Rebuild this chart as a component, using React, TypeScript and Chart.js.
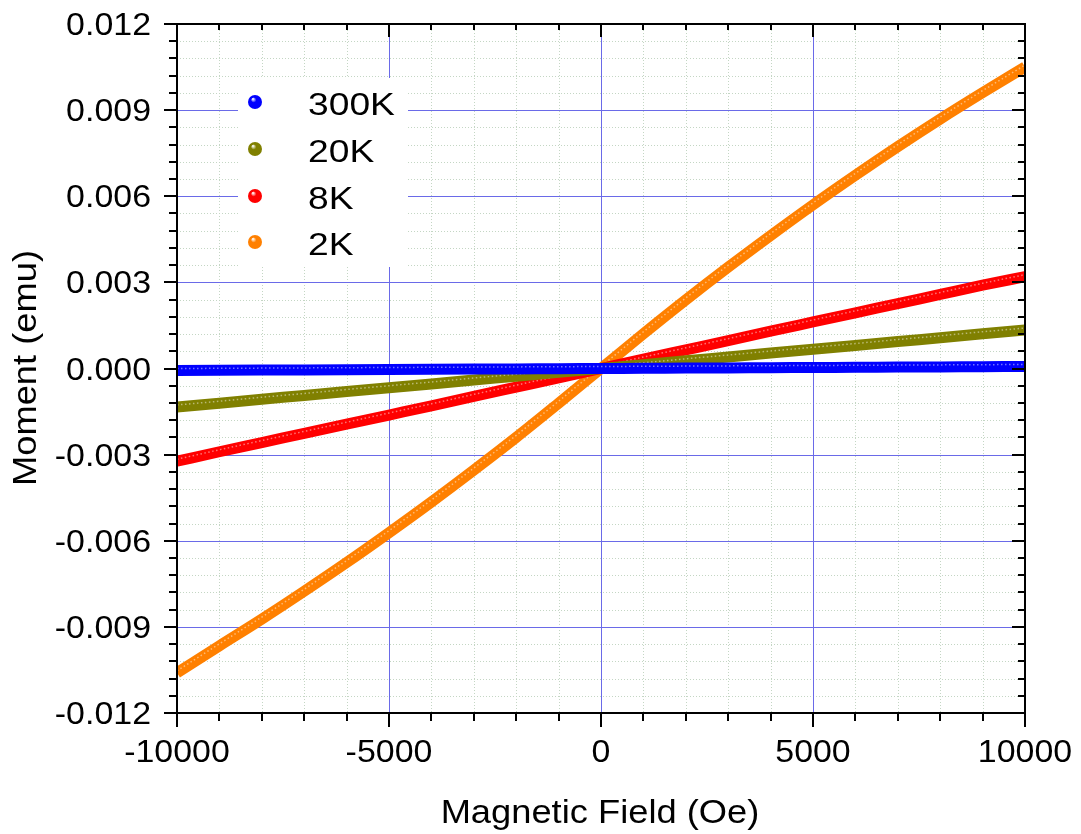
import React, { useEffect, useRef } from "react";
import { Chart, registerables } from "chart.js";

Chart.register(...registerables);

// ---- Data ----
const fieldOe = [
  -10000, -9000, -8000, -7000, -6000, -5000, -4000, -3000, -2000, -1000, 0,
  1000, 2000, 3000, 4000, 5000, 6000, 7000, 8000, 9000, 10000,
];
const moment300K = [
  -0.00007, -0.000063, -0.000056, -0.000049, -0.000042, -0.000035, -0.000028,
  -0.000021, -0.000014, -0.000007, 0, 0.000007, 0.000014, 0.000021, 0.000028,
  0.000035, 0.000042, 0.000049, 0.000056, 0.000063, 0.00007,
];
const moment20K = [
  -0.00134, -0.00121, -0.00107, -0.00094, -0.0008, -0.00067, -0.00054,
  -0.0004, -0.00027, -0.00013, 0, 0.00013, 0.00027, 0.0004, 0.00054, 0.00067,
  0.0008, 0.00094, 0.00107, 0.00121, 0.00134,
];
const moment8K = [
  -0.00323, -0.0029, -0.00258, -0.00226, -0.00194, -0.00162, -0.0013,
  -0.00097, -0.00065, -0.00033, 0, 0.00033, 0.00065, 0.00097, 0.0013, 0.00162,
  0.00194, 0.00226, 0.00258, 0.0029, 0.0032,
];
const moment2K = [
  -0.0106, -0.00966, -0.00873, -0.00776, -0.00676, -0.00572, -0.00465,
  -0.00354, -0.0024, -0.00121, 0, 0.00121, 0.00239, 0.00353, 0.00463, 0.0057,
  0.00673, 0.00773, 0.00869, 0.00961, 0.0105,
];
const seriesLabels = ["300K", "20K", "8K", "2K"];
const seriesColors = ["#0000ff", "#808000", "#ff0000", "#ff8000"];
const seriesValues = [moment300K, moment20K, moment8K, moment2K];

const xTickValues = [-10000, -5000, 0, 5000, 10000];
const xTickLabels = ["-10000", "-5000", "0", "5000", "10000"];
const yTickValues = [
  -0.012, -0.009, -0.006, -0.003, 0, 0.003, 0.006, 0.009, 0.012,
];
const yTickLabels = [
  "-0.012", "-0.009", "-0.006", "-0.003", "0.000", "0.003", "0.006", "0.009", "0.012",
];
const xMinorStep = 1000;
const yMinorStep = 0.0006;
const xTitle = "Magnetic Field (Oe)";
const yTitle = "Moment (emu)";

const FONT = "'Liberation Sans', Arial, Helvetica, sans-serif";

function drawText(
  ctx: CanvasRenderingContext2D,
  text: string,
  x: number,
  y: number,
  align: CanvasTextAlign,
  size: number,
  sx: number,
  rot = 0
) {
  ctx.save();
  ctx.translate(x, y);
  if (rot) ctx.rotate(rot);
  ctx.scale(sx, 1);
  ctx.font = `${size}px ${FONT}`;
  ctx.fillStyle = "#000";
  ctx.textAlign = align;
  ctx.textBaseline = "alphabetic";
  ctx.fillText(text, 0, 0);
  ctx.restore();
}

function sphere(ctx: CanvasRenderingContext2D, x: number, y: number, r: number, color: string) {
  ctx.save();
  const g = ctx.createRadialGradient(x - r * 0.3, y - r * 0.45, r * 0.05, x, y, r);
  g.addColorStop(0, "rgba(255,255,255,0.95)");
  g.addColorStop(0.35, color);
  g.addColorStop(1, color);
  ctx.beginPath();
  ctx.arc(x, y, r, 0, Math.PI * 2);
  ctx.fillStyle = g;
  ctx.fill();
  ctx.restore();
}

const framePlugin = {
  id: "originFrame",
  beforeDatasetsDraw(chart: any) {
    const { ctx, chartArea: a, scales } = chart;
    const xs = scales.x;
    const ys = scales.y;
    ctx.save();
    // minor dotted grid
    ctx.strokeStyle = "#c4d6c4";
    ctx.lineWidth = 1;
    ctx.setLineDash([1, 2]);
    for (let v = -10000 + xMinorStep; v < 10000 - 1; v += xMinorStep) {
      if (Math.abs(v % 5000) < 1e-6) continue;
      const px = Math.round(xs.getPixelForValue(v)) + 0.5;
      ctx.beginPath();
      ctx.moveTo(px, a.top);
      ctx.lineTo(px, a.bottom);
      ctx.stroke();
    }
    for (let i = 1; i < 40; i++) {
      if (i % 5 === 0) continue;
      const v = -0.012 + i * yMinorStep;
      const py = Math.round(ys.getPixelForValue(v)) + 0.5;
      ctx.beginPath();
      ctx.moveTo(a.left, py);
      ctx.lineTo(a.right, py);
      ctx.stroke();
    }
    ctx.setLineDash([]);
    // major grid
    ctx.strokeStyle = "#6a6ae8";
    for (const v of xTickValues) {
      const px = Math.round(xs.getPixelForValue(v)) + 0.5;
      ctx.beginPath();
      ctx.moveTo(px, a.top);
      ctx.lineTo(px, a.bottom);
      ctx.stroke();
    }
    for (const v of yTickValues) {
      const py = Math.round(ys.getPixelForValue(v)) + 0.5;
      ctx.beginPath();
      ctx.moveTo(a.left, py);
      ctx.lineTo(a.right, py);
      ctx.stroke();
    }
    ctx.restore();
  },
  afterDatasetDraw(chart: any, args: any) {
    const { ctx, chartArea: a } = chart;
    const pts = args.meta.data;
    ctx.save();
    ctx.beginPath();
    ctx.rect(a.left, a.top, a.right - a.left, a.bottom - a.top);
    ctx.clip();
    ctx.strokeStyle = "rgba(255,255,255,0.45)";
    ctx.lineWidth = 1.5;
    ctx.setLineDash([1.5, 2.5]);
    ctx.beginPath();
    pts.forEach((p: any, i: number) => {
      if (i === 0) ctx.moveTo(p.x, p.y - 2);
      else ctx.lineTo(p.x, p.y - 2);
    });
    ctx.stroke();
    ctx.restore();
  },
  afterDatasetsDraw(chart: any) {
    const { ctx, chartArea: a, scales } = chart;
    const xs = scales.x;
    const ys = scales.y;
    ctx.save();
    // legend box
    ctx.fillStyle = "#ffffff";
    ctx.fillRect(238, 78, 170, 189);
    const legendY = [102, 149, 196, 242];
    seriesLabels.forEach((lab, i) => {
      sphere(ctx, 255, legendY[i], 7, seriesColors[i]);
      drawText(ctx, lab, 308, legendY[i] + 13, "left", 31, 1.2);
    });

    // frame
    ctx.strokeStyle = "#000";
    ctx.lineWidth = 2;
    ctx.strokeRect(a.left, a.top, a.right - a.left, a.bottom - a.top);

    // ticks
    const tick = (x1: number, y1: number, x2: number, y2: number) => {
      ctx.beginPath();
      ctx.moveTo(x1, y1);
      ctx.lineTo(x2, y2);
      ctx.stroke();
    };
    ctx.lineWidth = 2;
    for (let v = -10000; v <= 10000; v += xMinorStep) {
      const px = Math.round(xs.getPixelForValue(v));
      const major = Math.abs(v % 5000) < 1e-6;
      tick(px, a.bottom, px, a.bottom + (major ? 14 : 8));
      tick(px, a.top, px, a.top + (major ? 13 : 6));
    }
    for (let i = 0; i <= 40; i++) {
      const v = -0.012 + i * yMinorStep;
      const py = Math.round(ys.getPixelForValue(v));
      const major = i % 5 === 0;
      tick(a.left, py, a.left - (major ? 13 : 8), py);
      tick(a.right, py, a.right - (major ? 13 : 7), py);
    }

    // tick labels
    xTickValues.forEach((v, i) => {
      drawText(ctx, xTickLabels[i], xs.getPixelForValue(v), 762, "center", 32, 1.06);
    });
    yTickValues.forEach((v, i) => {
      drawText(ctx, yTickLabels[i], 151, ys.getPixelForValue(v) + 11, "right", 32, 1.06);
    });

    // axis titles
    drawText(ctx, xTitle, 600, 823, "center", 33, 1.1);
    drawText(ctx, yTitle, 36, 368, "center", 33, 1.1, -Math.PI / 2);
    ctx.restore();
  },
};

export default function App() {
  const ref = useRef<HTMLCanvasElement | null>(null);
  useEffect(() => {
    if (!ref.current) return;
    const chart = new Chart(ref.current, {
      type: "line",
      data: {
        datasets: seriesLabels.map((lab, i) => ({
          label: lab,
          data: fieldOe.map((h, j) => ({ x: h, y: seriesValues[i][j] })),
          borderColor: seriesColors[i],
          backgroundColor: seriesColors[i],
          borderWidth: 11,
          pointRadius: 0,
          fill: false,
          cubicInterpolationMode: "monotone" as const,
        })),
      },
      options: {
        animation: false,
        responsive: false,
        maintainAspectRatio: false,
        layout: { padding: { left: 177, top: 24, right: 56, bottom: 121 } },
        scales: {
          x: { type: "linear", min: -10000, max: 10000, display: false },
          y: { type: "linear", min: -0.012, max: 0.012, display: false },
        },
        plugins: { legend: { display: false }, tooltip: { enabled: false } },
        events: [],
      },
      plugins: [framePlugin],
    });
    return () => chart.destroy();
  }, []);
  return (
    <div style={{ position: "absolute", left: 0, top: 0, width: 1081, height: 834, background: "#fff" }}>
      <canvas ref={ref} width={1081} height={834} style={{ display: "block" }} />
    </div>
  );
}
